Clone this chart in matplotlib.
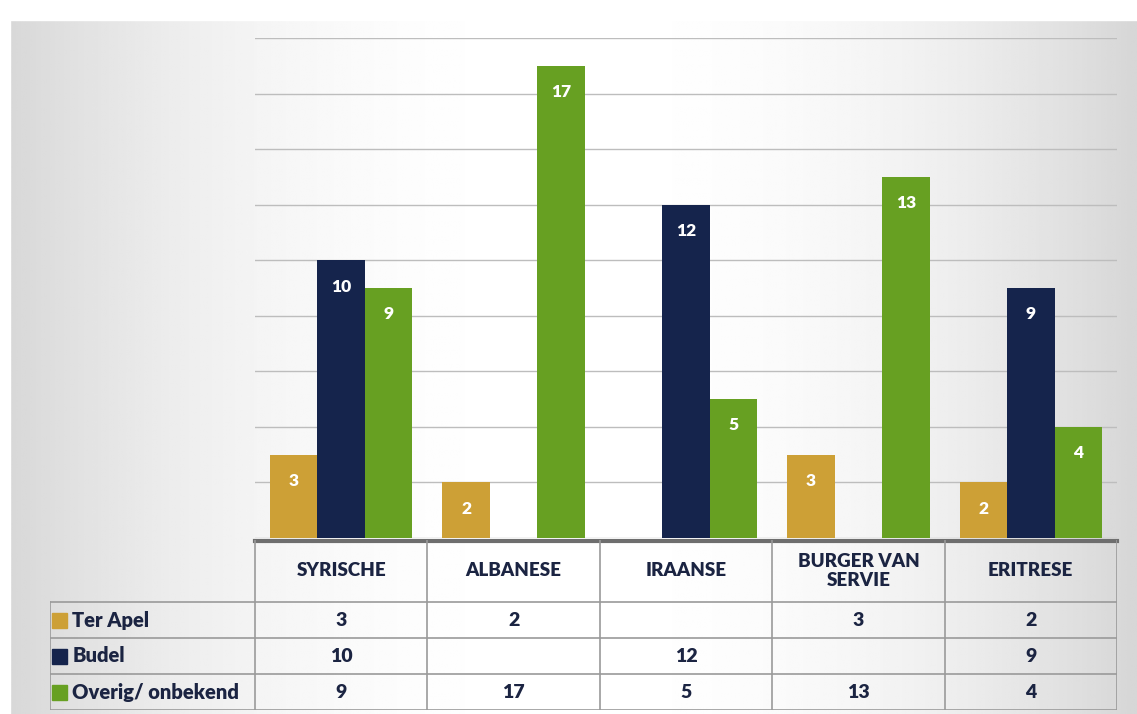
import matplotlib.pyplot as plt
import numpy as np

categories = ['SYRISCHE', 'ALBANESE', 'IRAANSE', 'BURGER VAN\nSERVIE', 'ERITRESE']
series = ['Ter Apel', 'Budel', 'Overig/ onbekend']
ter_apel = [3, 2, None, 3, 2]
budel = [10, None, 12, None, 9]
overig = [9, 17, 5, 13, 4]
colors = ['#cda036', '#15244c', '#67a022']
txt_col = '#1b2442'

plt.rcParams['font.family'] = ['Lato', 'DejaVu Sans']
bold = 'heavy'

fig = plt.figure(figsize=(11.37, 7.14), dpi=100)

# scanned-paper look: grey at the edges, white in the middle
bg = fig.add_axes([0, 0, 1, 1], zorder=-10)
xs = np.linspace(-1, 1, 400)
shade = 0.84 + 0.16 * (1 - np.abs(xs) ** 2.2)
bg.imshow(np.tile(shade, (50, 1)), cmap='gray', vmin=0, vmax=1, aspect='auto',
          extent=[0, 1, 0, 1])
bg.add_patch(plt.Rectangle((0, 0.972), 1, 0.03, color='white'))
bg.add_patch(plt.Rectangle((0, 0), 0.009, 1, color='white'))
bg.set_xlim(0, 1)
bg.set_ylim(0, 1)
bg.set_axis_off()

W, H = 1137, 714
x0, x1 = 255, 1117
ax = fig.add_axes([x0 / W, (H - 538) / H, (x1 - x0) / W, 500 / H])
ax.patch.set_alpha(0)
n = len(categories)
ax.set_xlim(-0.5, n - 0.5)
ax.set_ylim(0, 18)
ax.set_yticks(range(0, 19, 2))
ax.yaxis.grid(True, color='#bdbdbd', linewidth=1.0)
ax.set_axisbelow(True)
ax.tick_params(left=False, bottom=False, labelleft=False, labelbottom=False)
for s in ax.spines.values():
    s.set_visible(False)

bw = 0.275
data = [ter_apel, budel, overig]
for i, (vals, c) in enumerate(zip(data, colors)):
    for j, v in enumerate(vals):
        if v is None:
            continue
        xc = j + (i - 1) * bw
        ax.bar(xc, v, width=bw, color=c, zorder=3)
        ax.annotate(str(v), (xc, v), xytext=(0, -19), textcoords='offset points',
                    ha='center', va='center', color='white', fontsize=12.5,
                    fontweight=bold, zorder=4)

# data table under the chart
tx0 = 50
tab = fig.add_axes([tx0 / W, 4 / H, (x1 - tx0) / W, 170 / H])
tab.patch.set_alpha(0)
unit = (x1 - x0) / n
left = -0.5 - (x0 - tx0) / unit
tab.set_xlim(left, n - 0.5)
tab.set_ylim(0, 170)
tab.set_axis_off()

lc = '#9a9a9a'
lw = 1.2
tab.plot([-0.5, n - 0.5], [169, 169], color='#6e6e6e', lw=3, clip_on=False)
for k in range(n + 1):
    tab.plot([k - 0.5, k - 0.5], [0, 170], color=lc, lw=lw)
for yy in [0, 36, 72, 108]:
    tab.plot([left, n - 0.5], [yy, yy], color=lc, lw=lw)
tab.plot([left, left], [0, 108], color=lc, lw=lw)

for j, cat in enumerate(categories):
    tab.text(j, 139, cat, ha='center', va='center', fontsize=13.5,
             fontweight=bold, color=txt_col, linespacing=1.2)

for r, (name, vals, c) in enumerate(zip(series, data, colors)):
    yc = 108 - 18 - 36 * r
    tab.add_patch(plt.Rectangle((left + 0.012, yc - 7.5), 0.085, 15, color=c))
    tab.text(left + 0.13, yc, name, ha='left', va='center', fontsize=14.5,
             fontweight=bold, color=txt_col)
    for j, v in enumerate(vals):
        if v is not None:
            tab.text(j, yc, str(v), ha='center', va='center', fontsize=14,
                     fontweight=bold, color=txt_col)

fig.savefig('out.png', dpi=100)
